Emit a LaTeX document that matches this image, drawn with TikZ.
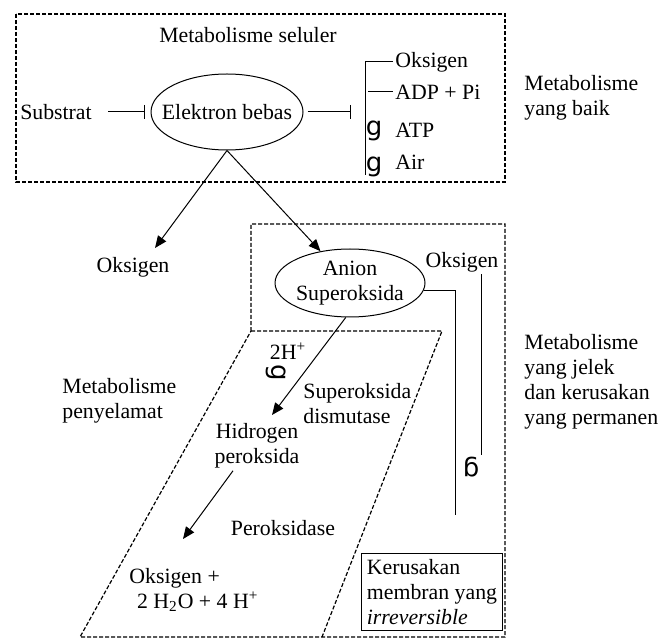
\documentclass[tikz,border=0pt]{standalone}
\usepackage{fontspec}
\usepackage{graphicx}
\setmainfont{Liberation Serif}
\newfontfamily\glyphfont{DejaVu Sans}
\usetikzlibrary{shapes.geometric,arrows.meta,positioning,calc}

\begin{document}
\begin{tikzpicture}[x=0.5pt, y=-0.5pt,
    font=\fontsize{10.9}{12.5}\selectfont,
    every node/.style={inner sep=1pt},
    zone/.style={draw, dash pattern=on 2pt off 1pt, line width=0.6pt},
    oval/.style={draw, ellipse, inner sep=-6pt, align=center, line width=0.5pt},
    txt/.style={align=left},
    arr/.style={-{Triangle[length=6pt,width=5pt]}, line width=0.5pt},
    bararr/.style={-{Bar[width=7pt]}, line width=0.5pt},
    wing/.style={font=\glyphfont\fontsize{13}{13}\selectfont}]
    \useasboundingbox (0,0) rectangle (667,640);
    \node (titel) at (248,35) {Metabolisme seluler};
    \node (sub) at (56,112) {Substrat};
    \node[oval, minimum width=76pt, minimum height=38pt] (eb) at (227,112) {Elektron bebas};
    \coordinate (ebout) at (351,112);
    \node[anchor=west] (ok1) at (393,62) {Oksigen};
    \node[anchor=west] (adp) at (393,92) {ADP + Pi};
    \node[wing] (g1) at (374,131) {g};
    \node[anchor=west] (atp) at (393,130) {ATP};
    \node[wing] (g2) at (374,167) {g};
    \node[anchor=west] (air) at (393,162) {Air};
    \node[txt, anchor=west] (baik) at (522,98) {Metabolisme\\yang baik};
    \coordinate (tipo) at (155,248);
    \node (ok2) at (133,267) {Oksigen};
    \node[oval, minimum width=75pt, minimum height=34pt] (as) at (350,283) {Anion\\Superoksida};
    \node (ok3) at (462,262) {Oksigen};
    \node[txt, anchor=west] (jelek) at (522,382) {Metabolisme\\yang jelek\\dan kerusakan\\yang permanen};
    \node[txt, anchor=west] (selamat) at (60,401) {Metabolisme\\penyelamat};
    \node (dua) at (288,351) {2H\textsuperscript{+}};
    \node[wing] (g3) at (276,373) {\rotatebox{-90}{g}};
    \node[txt, anchor=west] (sod) at (301,404) {Superoksida\\dismutase};
    \node[align=center] (hp) at (257,446) {Hidrogen\\peroksida};
    \coordinate (tiph) at (272,415);
    \node (prx) at (283,528) {Peroksidase};
    \coordinate (tipx) at (183,539);
    \node[txt, anchor=west] (hasil) at (127,590) {Oksigen +\\\hspace*{0.35em}2 H\textsubscript{2}O + 4 H\textsuperscript{+}};
    \node[draw, txt, inner xsep=2.5pt, inner ysep=3pt, line width=0.5pt] (rusak) at (432,592) {Kerusakan\\membran yang\\\textit{irreversible}};
    \node[wing] (g4) at (471,467) {\rotatebox{180}{g}};
    \coordinate (dmg) at (455,515);
    \path[zone] (16,14) rectangle (505,182);
    \path[zone] (251,331) -- (251,224) -- (505,224) -- (505,637) -- (80,637) -- cycle;
    \path[zone] (251,331) -- (442,331) -- (322,637);
    \path[draw,bararr,shorten <=7pt,shorten >=3pt] (sub) -- (sub -| eb.west);
    \path[draw,bararr,shorten <=2pt] (eb.east) -- (ebout);
    \path[draw,line width=0.5pt] (ok1.west) -- ++(-28,0) coordinate (bar) -- ($(bar |- g2.center)+(0,8)$);
    \path[draw,line width=0.5pt] ([xshift=1.5pt]bar |- adp.west) -- (adp.west);
    \path[draw,arr] (eb.south) -- (tipo);
    \path[draw,arr] (eb.south) -- (as);
    \path[draw,line width=0.5pt] (as.-6) -| (dmg);
    \path[draw,line width=0.5pt] ([xshift=9.5pt]ok3.south) -- ([xshift=9.5pt]ok3.south |- g4.north);
    \path[draw,arr] (as.-97) -- (tiph);
    \path[draw,arr] ([xshift=-12pt]hp.south) -- (tipx);
\end{tikzpicture}
\end{document}
